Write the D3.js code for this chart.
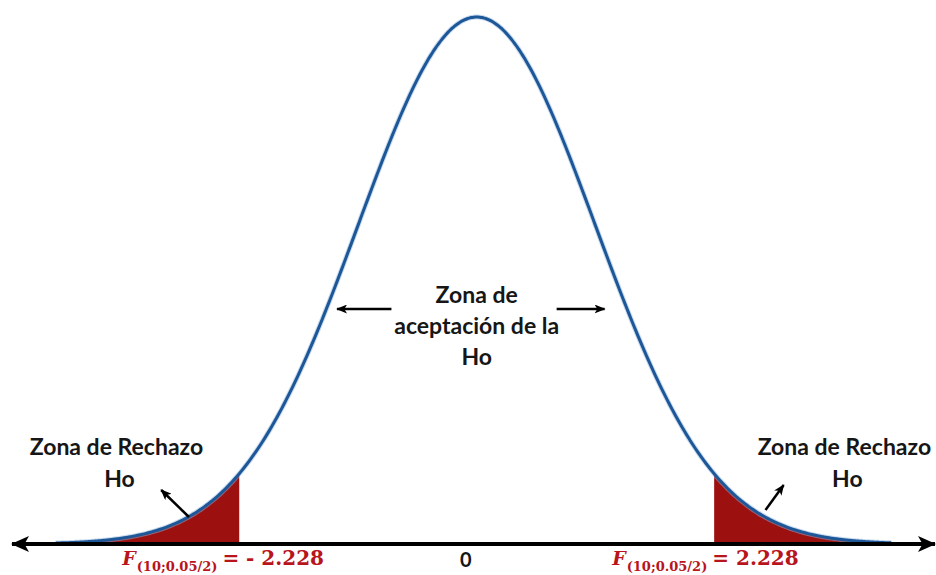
<!DOCTYPE html>
<html>
<head>
<meta charset="utf-8">
<script src="https://cdn.jsdelivr.net/npm/d3@7"></script>
<style>
  body { margin: 0; background: #fff; }
  .lbl { font-family: Lato, "Open Sans", sans-serif; font-weight: 700; fill: #161616; }
  .stat { font-family: "DejaVu Serif", serif; font-weight: 700; fill: #b8141c; }
</style>
</head>
<body>
<div class="graphic"></div>
<script>
// distribution
var criticalValues = [-2.228, 2.228];
var curveMean = 0;
var curveSd = 1.11;
var xDomain = [-4.36, 4.3];
var curveExtent = [-3.95, 3.9];

// texts
var rejectLabel = ['Zona de Rechazo', 'Ho'];
var acceptLabel = ['Zona de', 'aceptación de la', 'Ho'];
var centerTick = '0';
var statName = 'F';
var statSub = '(10;0.05/2)';

var width = 936, height = 575;
var axisY = 544, peakY = 17;

var svg = d3.select('.graphic').append('svg')
	.attr('width', width).attr('height', height);

var defs = svg.append('defs');
function marker(id, w, h) {
	defs.append('marker')
		.attr('id', id)
		.attr('viewBox', '0 0 ' + w + ' ' + h)
		.attr('refX', w - 1).attr('refY', h / 2)
		.attr('markerWidth', w).attr('markerHeight', h)
		.attr('markerUnits', 'userSpaceOnUse')
		.attr('orient', 'auto-start-reverse')
		.append('path')
		.attr('d', 'M0,0 L' + w + ',' + (h / 2) + ' L0,' + h + ' L' + (w * 0.25) + ',' + (h / 2) + ' Z')
		.attr('fill', '#000');
}
marker('bigArrow', 18, 16);
marker('smallArrow', 11, 9);

var x = d3.scaleLinear().domain(xDomain).range([12, 935]);

function pdf(v) {
	var z = (v - curveMean) / curveSd;
	return Math.exp(-z * z / 2) / (curveSd * Math.sqrt(2 * Math.PI));
}
var peak = pdf(curveMean);
var y = d3.scaleLinear().domain([0, peak]).range([axisY, peakY]);

var samples = d3.range(curveExtent[0], curveExtent[1] + 0.001, 0.02).map(function (v) {
	return { v: v, d: pdf(v) };
});

var area = d3.area()
	.x(function (d) { return x(d.v); })
	.y0(axisY)
	.y1(function (d) { return y(d.d); });

// rejection regions
var leftTail = samples.filter(function (d) { return d.v <= criticalValues[0]; });
leftTail.push({ v: criticalValues[0], d: pdf(criticalValues[0]) });
var rightTail = [{ v: criticalValues[1], d: pdf(criticalValues[1]) }].concat(
	samples.filter(function (d) { return d.v >= criticalValues[1]; }));

svg.selectAll('.tail')
	.data([leftTail, rightTail])
	.enter().append('path')
	.attr('class', 'tail')
	.attr('d', area)
	.attr('fill', '#9c1010');

// curve
var line = d3.line()
	.x(function (d) { return x(d.v); })
	.y(function (d) { return y(d.d); })
	.curve(d3.curveBasis);

svg.append('path')
	.datum(samples)
	.attr('d', line)
	.attr('fill', 'none')
	.attr('stroke', '#8fb6e0')
	.attr('stroke-width', 5)
	.attr('opacity', 0.5);

svg.append('path')
	.datum(samples)
	.attr('d', line)
	.attr('fill', 'none')
	.attr('stroke', '#1d5797')
	.attr('stroke-width', 3);

// horizontal axis with arrows on both ends
svg.append('line')
	.attr('x1', x.range()[0]).attr('x2', x.range()[1])
	.attr('y1', axisY).attr('y2', axisY)
	.attr('stroke', '#000').attr('stroke-width', 4)
	.attr('marker-start', 'url(#bigArrow)')
	.attr('marker-end', 'url(#bigArrow)');

// acceptance zone label
var accept = svg.append('text').attr('class', 'lbl')
	.attr('text-anchor', 'middle').style('font-size', '23px');
acceptLabel.forEach(function (t, i) {
	accept.append('tspan').attr('x', x(0)).attr('y', 303 + i * 31).text(t);
});

var arrows = [
	[x(-0.8), 309, x(-1.31), 309],
	[x(0.75), 309, x(1.2), 309]
];
svg.selectAll('.accArrow')
	.data(arrows)
	.enter().append('line')
	.attr('x1', function (d) { return d[0]; })
	.attr('y1', function (d) { return d[1]; })
	.attr('x2', function (d) { return d[2]; })
	.attr('y2', function (d) { return d[3]; })
	.attr('stroke', '#000').attr('stroke-width', 2.5)
	.attr('marker-end', 'url(#smallArrow)');

// rejection zone labels
[x(-3.38), x(3.45)].forEach(function (cx) {
	var t = svg.append('text').attr('class', 'lbl')
		.attr('text-anchor', 'middle').style('font-size', '23px');
	rejectLabel.forEach(function (s, i) {
		t.append('tspan').attr('x', cx + (i ? 3 : 0)).attr('y', 455 + i * 32).text(s);
	});
});

var tailArrows = [
	[x(-2.7), 517, x(-2.96), 490],
	[x(2.71), 510, x(2.88), 485]
];
svg.selectAll('.tailArrow')
	.data(tailArrows)
	.enter().append('line')
	.attr('x1', function (d) { return d[0]; })
	.attr('y1', function (d) { return d[1]; })
	.attr('x2', function (d) { return d[2]; })
	.attr('y2', function (d) { return d[3]; })
	.attr('stroke', '#000').attr('stroke-width', 2.5)
	.attr('marker-end', 'url(#smallArrow)');

// tick at zero
svg.append('text').attr('class', 'lbl')
	.attr('x', x(0) - 11).attr('y', 567)
	.attr('text-anchor', 'middle')
	.style('font-size', '20px')
	.text(centerTick);

// critical value labels
var statX = [x(criticalValues[0]) - 117, x(criticalValues[1]) - 102];
criticalValues.forEach(function (cv, i) {
	var t = svg.append('text').attr('class', 'stat')
		.attr('x', statX[i]).attr('y', 565);
	t.append('tspan').style('font-size', '19px').style('font-style', 'italic').text(statName);
	t.append('tspan').style('font-size', '13px').attr('dy', 6).attr('dx', 1).text(statSub);
	var val = cv < 0 ? '= - ' + d3.format('.3f')(-cv) : '= ' + d3.format('.3f')(cv);
	t.append('tspan').style('font-size', '20px').attr('dy', -6).attr('dx', 5).text(val);
});
</script>
</body>
</html>
